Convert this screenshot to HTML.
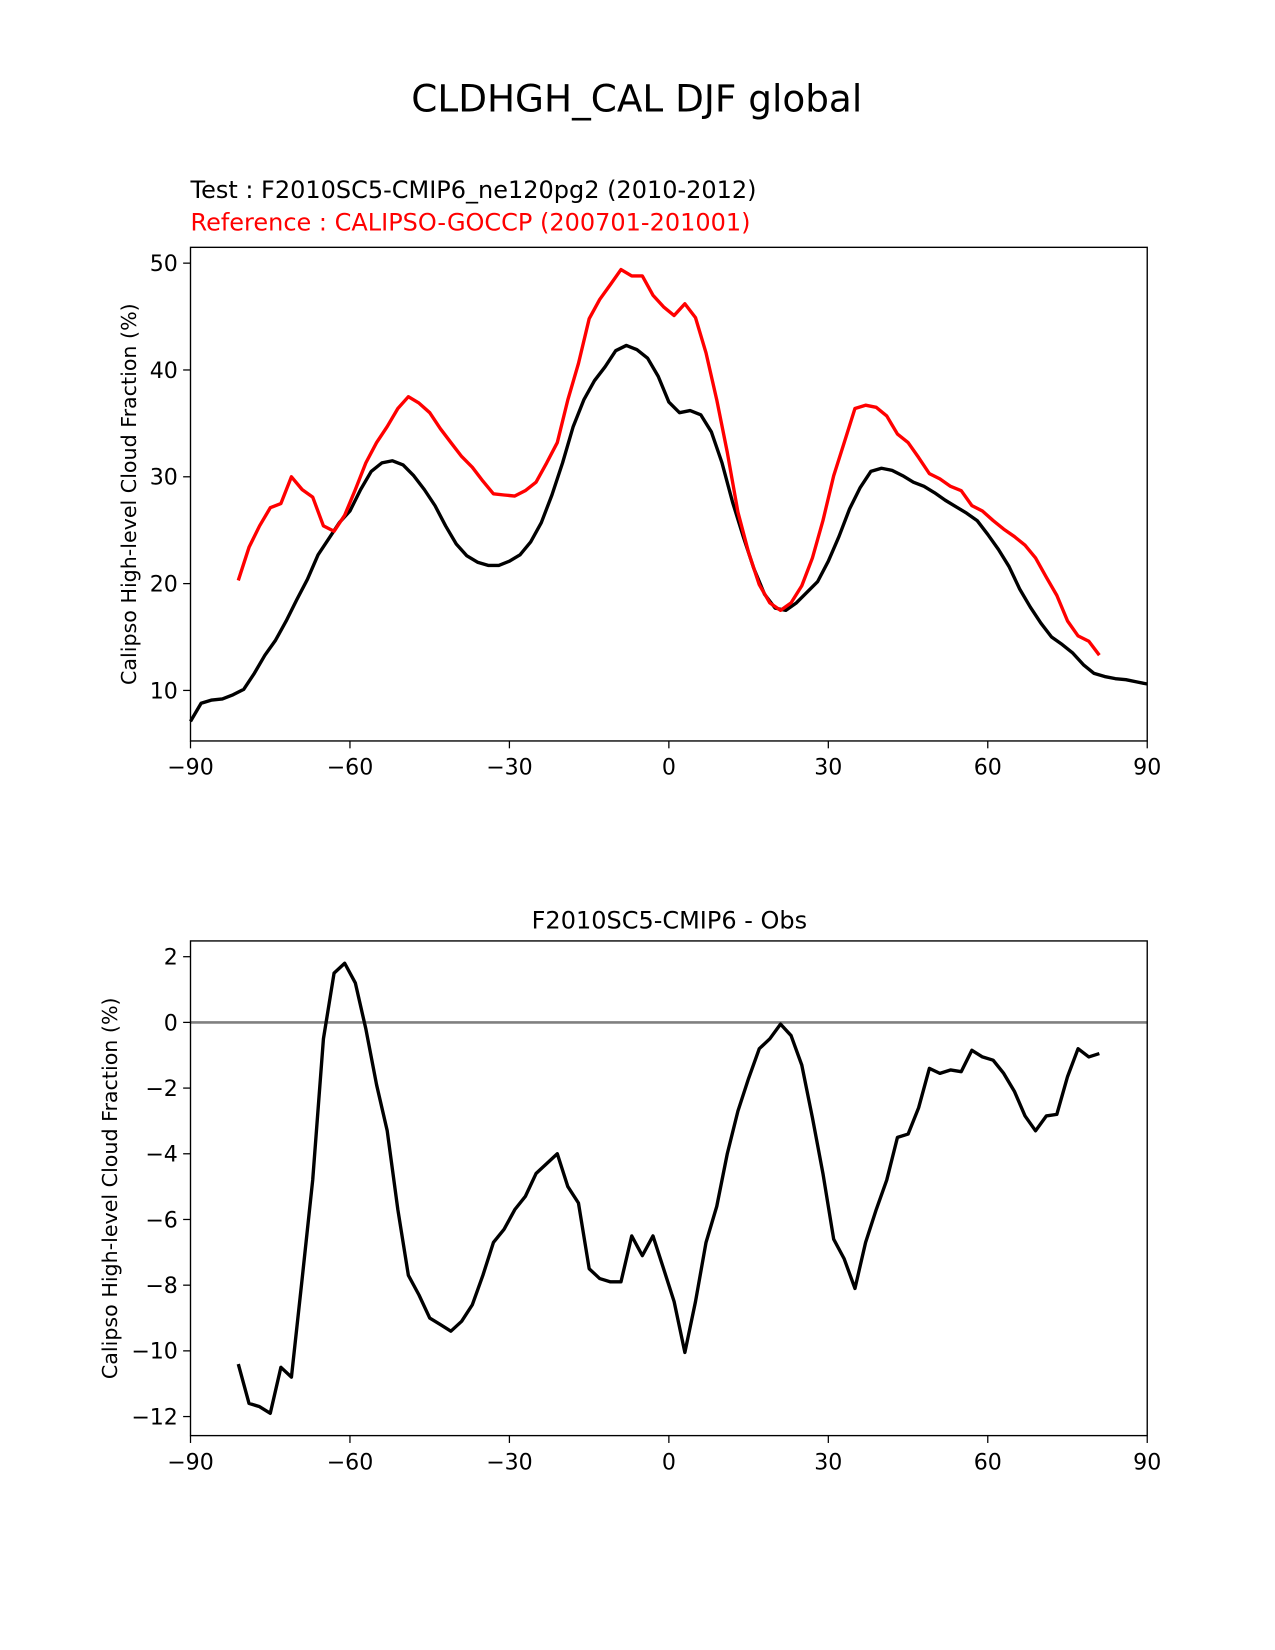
<!DOCTYPE html>
<html><head><meta charset="utf-8">
<style>
html,body{margin:0;padding:0;background:#fff;width:1275px;height:1650px;overflow:hidden;}
svg{display:block;font-family:"DejaVu Sans","Liberation Sans",sans-serif;}
</style></head>
<body>
<svg id="chart" width="1275" height="1650" viewBox="0 0 1211.4 1567.7" preserveAspectRatio="none" xmlns="http://www.w3.org/2000/svg">
<rect width="1211.4" height="1567.7" fill="#fff"/>
<text x="605" y="106" font-size="35.5" text-anchor="middle">CLDHGH_CAL DJF global</text>
<text x="181" y="188" font-size="22.8">Test : F2010SC5-CMIP6_ne120pg2 (2010-2012)</text>
<text x="181" y="219" font-size="22.8" fill="#ff0000">Reference : CALIPSO-GOCCP (200701-201001)</text>
<text x="636" y="882" font-size="22.8" text-anchor="middle">F2010SC5-CMIP6 - Obs</text>
<g id="top"></g>
<g id="bot"></g>
</svg>
<script>
const testLat=[-90,-88,-86,-84,-82,-80,-78,-76,-74,-72,-70,-68,-66,-64,-62,-60,-58,-56,-54,-52,-50,-48,-46,-44,-42,-40,-38,-36,-34,-32,-30,-28,-26,-24,-22,-20,-18,-16,-14,-12,-10,-8,-6,-4,-2,0,2,4,6,8,10,12,14,16,18,20,22,24,26,28,30,32,34,36,38,40,42,44,46,48,50,52,54,56,58,60,62,64,66,68,70,72,74,76,78,80,82,84,86,88,90];
const testVals=[7.1,8.8,9.1,9.2,9.6,10.1,11.6,13.3,14.7,16.5,18.5,20.4,22.7,24.2,25.7,26.8,28.8,30.5,31.3,31.5,31.1,30.1,28.8,27.3,25.4,23.7,22.6,22.0,21.7,21.7,22.1,22.7,23.9,25.7,28.3,31.3,34.7,37.2,39.0,40.3,41.8,42.3,41.9,41.1,39.4,37.0,36.0,36.2,35.8,34.2,31.3,27.6,24.4,21.4,19.0,17.7,17.5,18.2,19.2,20.2,22.1,24.4,27.0,29.0,30.5,30.8,30.6,30.1,29.5,29.1,28.5,27.8,27.2,26.6,25.9,24.6,23.2,21.6,19.5,17.8,16.3,15.0,14.3,13.5,12.4,11.6,11.3,11.1,11.0,10.8,10.6];
const obsLat=[-81,-79,-77,-75,-73,-71,-69,-67,-65,-63,-61,-59,-57,-55,-53,-51,-49,-47,-45,-43,-41,-39,-37,-35,-33,-31,-29,-27,-25,-23,-21,-19,-17,-15,-13,-11,-9,-7,-5,-3,-1,1,3,5,7,9,11,13,15,17,19,21,23,25,27,29,31,33,35,37,39,41,43,45,47,49,51,53,55,57,59,61,63,65,67,69,71,73,75,77,79,81];
const refVals=[20.3,23.4,25.4,27.1,27.5,30.0,28.8,28.1,25.4,24.9,26.4,28.8,31.3,33.2,34.7,36.4,37.5,36.9,36.0,34.5,33.2,31.9,30.9,29.6,28.4,28.3,28.2,28.7,29.5,31.3,33.2,37.2,40.6,44.8,46.6,48.0,49.4,48.8,48.8,47.0,45.9,45.1,46.2,44.9,41.6,37.2,32.3,26.7,22.9,19.9,18.2,17.5,18.2,19.8,22.4,25.9,30.1,33.2,36.4,36.7,36.5,35.7,34.0,33.2,31.8,30.3,29.8,29.1,28.7,27.3,26.8,25.9,25.1,24.4,23.6,22.4,20.6,18.9,16.5,15.1,14.6,13.3];
const diffVals=[-10.4,-11.6,-11.7,-11.9,-10.5,-10.8,-7.8,-4.8,-0.5,1.5,1.8,1.2,-0.2,-1.9,-3.3,-5.7,-7.7,-8.3,-9.0,-9.2,-9.4,-9.1,-8.6,-7.7,-6.7,-6.3,-5.7,-5.3,-4.6,-4.3,-4.0,-5.0,-5.5,-7.5,-7.8,-7.9,-7.9,-6.5,-7.1,-6.5,-7.5,-8.5,-10.05,-8.5,-6.7,-5.6,-4.0,-2.7,-1.7,-0.8,-0.5,-0.05,-0.4,-1.3,-2.9,-4.6,-6.6,-7.2,-8.1,-6.7,-5.7,-4.8,-3.5,-3.4,-2.6,-1.4,-1.55,-1.45,-1.5,-0.85,-1.05,-1.15,-1.55,-2.1,-2.85,-3.3,-2.85,-2.8,-1.65,-0.8,-1.05,-0.95];
const xTicks=[-90,-60,-30,0,30,60,90];
const xTickLabels=["\u221290","\u221260","\u221230","0","30","60","90"];
const topYTicks=[10,20,30,40,50];
const botYTicks=[2,0,-2,-4,-6,-8,-10,-12];

const NS="http://www.w3.org/2000/svg";
function mk(parent,tag,attrs){const e=document.createElementNS(NS,tag);for(const k in attrs)e.setAttribute(k,attrs[k]);parent.appendChild(e);return e;}
function panel(g,top,bottom,ymin,ymax,yTicks,name){
  const L=181,R=1090;
  const sx=v=>L+(v+90)/180*(R-L);
  const sy=v=>bottom-(v-ymin)/(ymax-ymin)*(bottom-top);
  xTicks.forEach((t,i)=>{
    const l=mk(g,'line',{x1:sx(t),x2:sx(t),y1:bottom,y2:bottom+7,stroke:'#000','stroke-width':1.2});
    
    
    const tx=mk(g,'text',{x:sx(t),y:bottom+32,'font-size':21,'text-anchor':'middle'});
    tx.textContent=xTickLabels[i];
    
    
  });
  yTicks.forEach(t=>{
    const l=mk(g,'line',{x1:L-7,x2:L,y1:sy(t),y2:sy(t),stroke:'#000','stroke-width':1.2});
    
    
    const tx=mk(g,'text',{x:L-12,y:sy(t)+7.5,'font-size':21,'text-anchor':'end'});
    tx.textContent=String(t).replace('-','\u2212');
    
    
  });
  const yl=mk(g,'text',{x:0,y:0,'font-size':19.6,'text-anchor':'middle',transform:`translate(${name==='top'?129:111},${(top+bottom)/2}) rotate(-90)`});
  yl.textContent='Calipso High-level Cloud Fraction (%)';
  
  
  return {sx,sy,L,R};
}
function line(g,ax,xs,ys,color,nm){
  const d=xs.map((x,i)=>(i?'L':'M')+ax.sx(x).toFixed(1)+' '+ax.sy(ys[i]).toFixed(1)).join(' ');
  const p=mk(g,'path',{d:d,fill:'none',stroke:color,'stroke-width':3.2,'stroke-linejoin':'round'});
  
  
}
const gt=document.getElementById('top');
const at=panel(gt,235,704,5.27,51.48,topYTicks,'top');
line(gt,at,testLat,testVals,'#000','test-line');
line(gt,at,obsLat,refVals,'#ff0000','reference-line');
const ft=mk(gt,'rect',{x:181,y:235,width:909,height:469,fill:'none',stroke:'#000','stroke-width':1.3});



const gb=document.getElementById('bot');
const ab=panel(gb,894,1364,-12.58,2.48,botYTicks,'bot');
const z=mk(gb,'line',{x1:181,x2:1090,y1:ab.sy(0),y2:ab.sy(0),stroke:'#808080','stroke-width':2.5});


line(gb,ab,obsLat,diffVals,'#000','diff-line');
const fb=mk(gb,'rect',{x:181,y:894,width:909,height:470,fill:'none',stroke:'#000','stroke-width':1.3});


</script>
</body></html>
